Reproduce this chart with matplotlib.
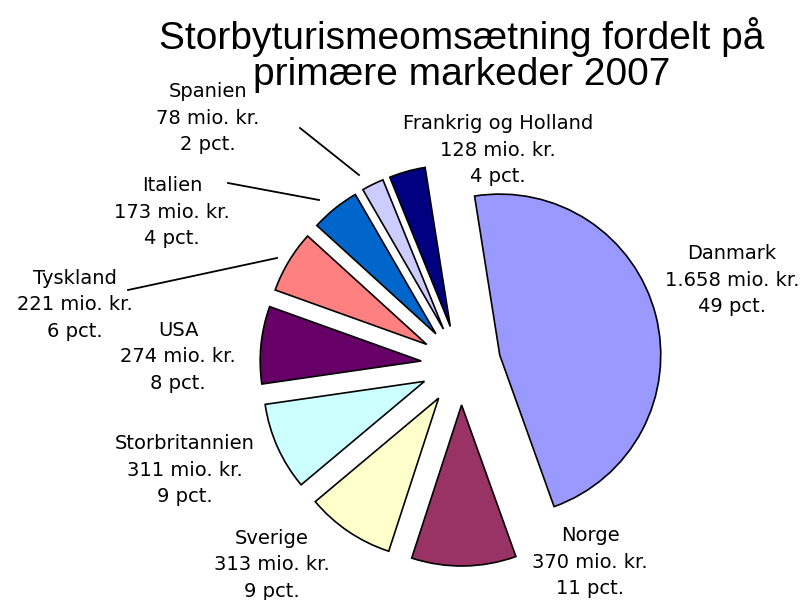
import matplotlib
matplotlib.use("Agg")
import matplotlib.pyplot as plt
from matplotlib.lines import Line2D

categories = ["Danmark", "Norge", "Sverige", "Storbritannien", "USA",
              "Tyskland", "Italien", "Spanien", "Frankrig og Holland"]
values = [1658, 370, 313, 311, 274, 221, 173, 78, 128]
amount_labels = ["1.658", "370", "313", "311", "274", "221", "173", "78", "128"]
pct_labels = ["49", "11", "9", "9", "8", "6", "4", "2", "4"]
colors = ["#9999FF", "#993366", "#FFFFCC", "#CCFFFF", "#660066",
          "#FF8080", "#0066CC", "#CCCCFF", "#000080"]

W, H = 805, 600
fig = plt.figure(figsize=(W / 100, H / 100), dpi=100)
ax = fig.add_axes([0, 0, 1, 1])

cx, cy, R = 461, H - 365, 161
ax.pie(values, colors=colors, startangle=99, counterclock=False,
       explode=[40] * len(values), center=(cx, cy), radius=R,
       wedgeprops=dict(edgecolor="black", linewidth=1.2))
ax.set_xlim(0, W)
ax.set_ylim(0, H)
ax.set_aspect("equal")
ax.axis("off")

# label positions (pixel coords, y from top): centre of the 3-line block
label_pos = [(732, 280), (590, 562), (272, 565), (185, 470), (178, 357),
             (75, 305), (172, 212), (208, 118), (498, 150)]
for name, amt, pct, (px, py) in zip(categories, amount_labels, pct_labels, label_pos):
    ax.text(px, H - py, f"{name}\n{amt} mio. kr.\n{pct} pct.",
            ha="center", va="center", fontsize=14, linespacing=1.52,
            family="DejaVu Sans", color="black")

# leader lines
leaders = [((300, 128), (359, 175)), ((228, 183), (319, 200)), ((128, 290), (277, 258))]
for (x0, y0), (x1, y1) in leaders:
    ax.add_line(Line2D([x0, x1], [H - y0, H - y1], color="black", linewidth=1.3))

ax.text(462, H - 37, "Storbyturismeomsætning fordelt på", ha="center", va="center",
        fontsize=28, family="Liberation Sans")
ax.text(462, H - 75, "primære markeder 2007", ha="center", va="center",
        fontsize=28, family="Liberation Sans")

fig.savefig("out.png", dpi=100)
